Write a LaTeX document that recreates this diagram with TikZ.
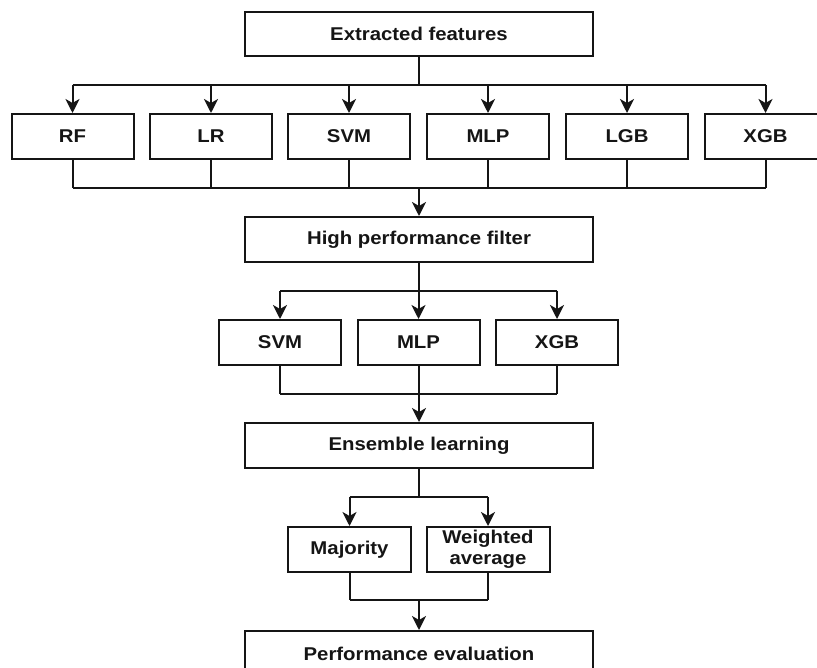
\documentclass[tikz,border=0pt]{standalone}
\usepackage{fontspec}
\setmainfont{Liberation Sans}[FakeStretch=1.1]
\usetikzlibrary{arrows.meta}
\definecolor{ink}{HTML}{151515}
\begin{document}
\begin{tikzpicture}[x=1pt,y=-1pt,
  box/.style={draw=ink, line width=2pt, inner sep=0pt, align=center,
    font=\fontsize{18.5}{20.7}\selectfont\bfseries, text=ink},
  wide/.style={box, minimum width=348pt, minimum height=44pt},
  small/.style={box, minimum width=122pt, minimum height=45pt},
  line/.style={draw=ink, line width=2pt},
  arr/.style={line, -{Stealth[length=14pt,width=14pt,inset=4pt]}}]
\useasboundingbox (0,0) rectangle (817,668);

% top
\node[wide] (ef) at (419,34) {Extracted features};
\node[small] (rf)  at (72.5,136.5) {RF};
\node[small] (lr)  at (211,136.5) {LR};
\node[small] (svm) at (349,136.5) {SVM};
\node[small] (mlp) at (488,136.5) {MLP};
\node[small] (lgb) at (627,136.5) {LGB};
\node[small] (xgb) at (765.5,136.5) {XGB};

\coordinate (s1) at (419,85);
\coordinate (m1) at (419,188);
\draw[line] (ef.south) -- (s1);
\draw[line] (s1 -| rf) -- (s1 -| xgb);
\foreach \n in {rf,lr,svm,mlp,lgb,xgb}{
  \draw[arr] (s1 -| \n) -- (\n.north);
  \draw[line] (\n.south) -- (m1 -| \n);
}
\draw[line] (m1 -| rf) -- (m1 -| xgb);

\node[wide, minimum height=45pt] (hpf) at (419,239.5) {High performance filter};
\draw[arr] (m1) -- (hpf.north);

% second row
\node[small] (svmb) at (280,342.5) {SVM};
\node[small] (mlpb) at (418.5,342.5) {MLP};
\node[small] (xgbb) at (557,342.5) {XGB};
\coordinate (s2) at (419,291);
\coordinate (m2) at (419,394);
\draw[line] (hpf.south) -- (s2);
\draw[line] (s2 -| svmb) -- (s2 -| xgbb);
\foreach \n in {svmb,mlpb,xgbb}{
  \draw[arr] (s2 -| \n) -- (\n.north);
  \draw[line] (\n.south) -- (m2 -| \n);
}
\draw[line] (m2 -| svmb) -- (m2 -| xgbb);

\node[wide, minimum height=45pt] (ens) at (419,445.5) {Ensemble learning};
\draw[arr] (m2) -- (ens.north);

% third row
\node[small, minimum width=123pt] (maj) at (349.5,549.5) {Majority};
\node[small, minimum width=123pt] (wav) at (488,549.5) {Weighted\\average};
\coordinate (s3) at (419,497);
\coordinate (m3) at (419,600);
\draw[line] (ens.south) -- (s3);
\draw[line] (s3 -| maj) -- (s3 -| wav);
\foreach \n in {maj,wav}{
  \draw[arr] (s3 -| \n) -- (\n.north);
  \draw[line] (\n.south) -- (m3 -| \n);
}
\draw[line] (m3 -| maj) -- (m3 -| wav);

\node[wide, minimum height=45pt] (perf) at (419,653.5) {Performance evaluation};
\draw[arr] (m3) -- (perf.north);
\end{tikzpicture}
\end{document}
